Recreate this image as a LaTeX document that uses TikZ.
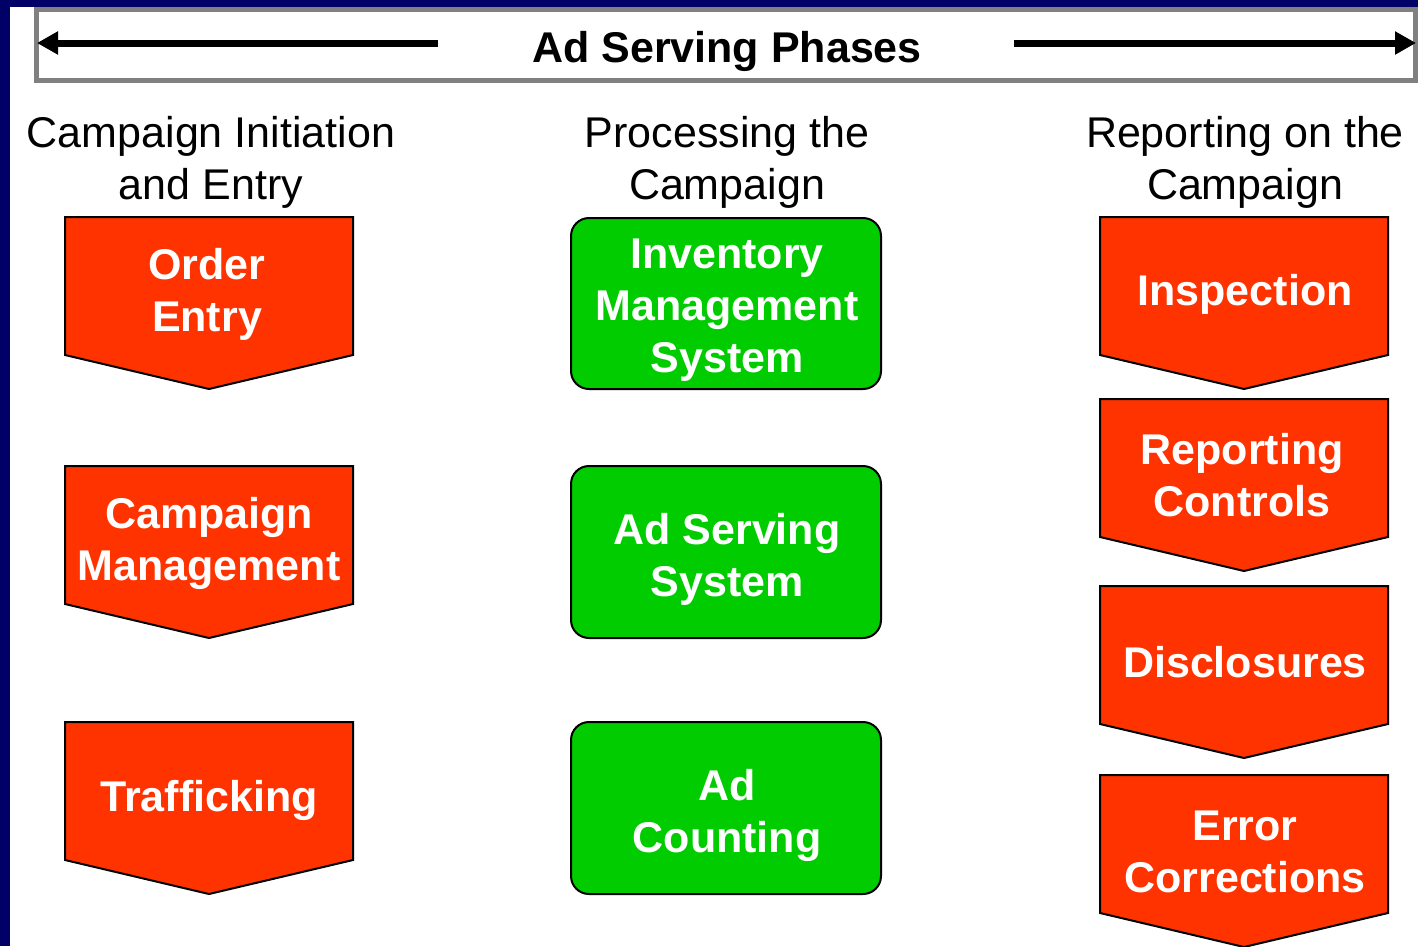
\documentclass[tikz,border=0pt]{standalone}
\usepackage{fontspec}
\setmainfont{Liberation Sans}
\usetikzlibrary{arrows.meta}
\definecolor{navy}{HTML}{000066}
\definecolor{redbox}{HTML}{FF3300}
\definecolor{greenbox}{HTML}{00CC00}
\definecolor{framegray}{HTML}{808080}
\tikzset{
  boxtext/.style={text=white,font=\fontsize{43}{52}\selectfont\bfseries,align=center,inner sep=0pt},
  headtext/.style={text=black,font=\fontsize{43}{52}\selectfont,align=center,inner sep=0pt},
  redshape/.style={fill=redbox,draw=black,line width=2pt,line join=miter},
  greenshape/.style={fill=greenbox,draw=black,line width=2pt,rounded corners=18pt},
  phasearrow/.style={line width=7pt,-{Triangle[length=21pt,width=22pt]}}
}
\begin{document}
\begin{tikzpicture}[x=1pt,y=-1pt]
\useasboundingbox (0,0) rectangle (1418,946);
\fill[white] (0,0) rectangle (1418,946);
\fill[navy] (0,0) rectangle (10,946);
\fill[navy] (0,0) rectangle (1418,7);
% frame
\draw[framegray,line width=5pt] (36,9.5) rectangle (1415,80.5);
\node[font=\fontsize{43}{52}\selectfont\bfseries,inner sep=0pt] (title) at (727,51) {Ad Serving Phases};
\coordinate (la) at (438,43);
\coordinate (lt) at (37,43);
\coordinate (ra) at (1014,43);
\coordinate (rt) at (1416,43);
\draw[phasearrow] (la) -- (lt);
\draw[phasearrow] (ra) -- (rt);
% headers
\node[headtext] (h1) at (211,162) {Campaign Initiation\\and Entry};
\node[headtext] (h2) at (727,162) {Processing the\\Campaign};
\node[headtext] (h3) at (1245,162) {Reporting on the\\Campaign};
% left column
\draw[redshape] (65,217) -- (353,217) -- (353,355) -- (209,389) -- (65,355) -- cycle;
\node[boxtext] (oe) at (207,294) {Order\\Entry};
\draw[redshape] (65,466) -- (353,466) -- (353,604) -- (209,638) -- (65,604) -- cycle;
\node[boxtext] (cm) at (209,543) {Campaign\\Management};
\draw[redshape] (65,722) -- (353,722) -- (353,860) -- (209,894) -- (65,860) -- cycle;
\node[boxtext] (tr) at (209,800) {Trafficking};
% middle column
\draw[greenshape] (571,218) rectangle (881,389);
\node[boxtext] (ims) at (727,310) {Inventory\\Management\\System};
\draw[greenshape] (571,466) rectangle (881,638);
\node[boxtext] (ass) at (727,559) {Ad Serving\\System};
\draw[greenshape] (571,722) rectangle (881,894);
\node[boxtext] (ac) at (727,815) {Ad\\Counting};
% right column
\draw[redshape] (1100,217) -- (1388,217) -- (1388,355) -- (1244,389) -- (1100,355) -- cycle;
\node[boxtext] (in) at (1245,294) {Inspection};
\draw[redshape] (1100,399) -- (1388,399) -- (1388,537) -- (1244,571) -- (1100,537) -- cycle;
\node[boxtext] (rc) at (1242,475) {Reporting\\Controls};
\draw[redshape] (1100,586) -- (1388,586) -- (1388,724) -- (1244,758) -- (1100,724) -- cycle;
\node[boxtext] (di) at (1245,662) {Disclosures};
\draw[redshape] (1100,775) -- (1388,775) -- (1388,913) -- (1244,947) -- (1100,913) -- cycle;
\node[boxtext] (ec) at (1245,852) {Error\\Corrections};
\end{tikzpicture}
\end{document}
